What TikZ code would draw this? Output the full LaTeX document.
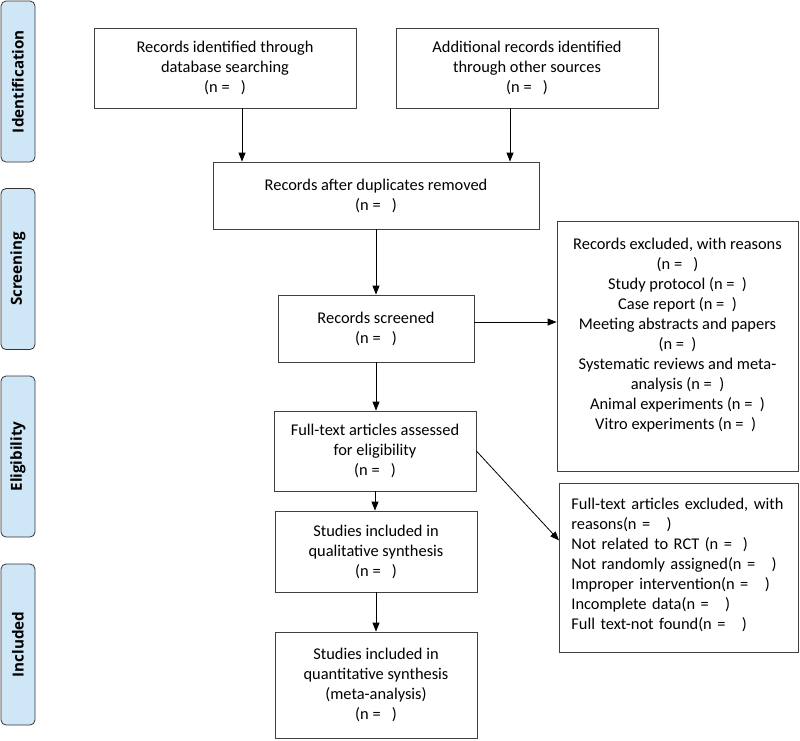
\documentclass[tikz,border=0pt]{standalone}
\usepackage{fontspec}
\setmainfont{Carlito}
\newfontfamily\stagefont{Open Sans}
\usetikzlibrary{positioning, arrows.meta}

\begin{document}
\begin{tikzpicture}[x=1pt, y=-1pt,
    box/.style={draw=black!75, line width=0.8pt, align=center, inner sep=0pt,
      font=\fontsize{16.4}{20}\selectfont},
    stage/.style={draw=black!80, line width=0.8pt, fill=stageblue, rounded corners=5pt,
      rotate=90, minimum width=161pt, minimum height=34pt, inner sep=0pt,
      font=\stagefont\bfseries\fontsize{15.2}{18}\selectfont},
    arr/.style={-{Triangle[length=9pt,width=7pt]}, line width=0.8pt}]
  \definecolor{stageblue}{RGB}{207,230,247}
  \useasboundingbox (0,0) rectangle (800,740);

  % stages
  \node [stage] (ident) at (18,81.5) {Identification};
  \node [stage] (screen) at (18,269) {Screening};
  \node [stage] (elig) at (18,456.5) {Eligibility};
  \node [stage] (incl) at (18,644.5) {Included};

  % boxes
  \node [box, minimum width=262pt, minimum height=80pt] (db) at (225,68)
    {Records identified through\\ database searching\\ (n = \ \ )};
  \node [box, minimum width=262pt, minimum height=80pt] (other) at (527,68)
    {Additional records identified\\ through other sources\\ (n = \ \ )};
  \node [box, minimum width=326pt, minimum height=67pt] (dup) at (376,195.5)
    {Records after duplicates removed\\ (n = \ \ )};
  \node [box, minimum width=196pt, minimum height=67pt] (screened) at (376,328.5)
    {Records screened\\ (n = \ \ )};
  \node [box, minimum width=241pt, minimum height=250pt, anchor=north] (excl) at (677.5,221)
    {Records excluded, with reasons\\ (n = \ \ )\\ Study protocol (n = \ )\\ Case report (n = \ )\\
     Meeting abstracts and papers\\ (n = \ )\\ Systematic reviews and meta-\\ analysis (n = \ )\\
     Animal experiments (n = \ )\\ Vitro experiments (n = \ )\ \ \ \\[6pt]\mbox{}};
  \node [box, minimum width=202pt, minimum height=80pt] (full) at (375,451)
    {Full-text articles assessed\\ for eligibility\\ (n = \ \ )};
  \node [box, minimum width=239pt, minimum height=169pt, anchor=north west, align=left,
    text width=215pt, inner xsep=12pt] (fullexcl) at (559,483)
    {Full-text articles excluded, with\\ reasons(n = \ \ )\\ Not related to RCT (n = \ )\\
     Not randomly assigned(n = \ \ )\\ Improper intervention(n = \ \ )\\ Incomplete data(n = \ \ )\\
     Full text-not found(n = \ \ )\\[-11pt]\mbox{}};
  \node [box, minimum width=202pt, minimum height=81pt] (qual) at (376,551.5)
    {Studies included in\\ qualitative synthesis\\ (n = \ \ )};
  \node [box, minimum width=202pt, minimum height=106pt] (quant) at (376,685)
    {Studies included in\\ quantitative synthesis\\ (meta-analysis)\\ (n = \ \ )};

  % connectors
  \coordinate (dbx) at (242,0);
  \coordinate (otherx) at (510,0);
  \draw [arr] (dbx |- db.south) -- (dbx |- dup.north);
  \draw [arr] (otherx |- other.south) -- (otherx |- dup.north);
  \draw [arr] (dup) -- (screened);
  \draw [arr] ([yshift=6.5pt]screened.east) -- ([yshift=6.5pt]screened.east -| excl.west);
  \draw [arr] (screened.south) -- (screened.south |- full.north);
  \draw [arr] (full.east) -- ([yshift=27.5pt]fullexcl.west);
  \draw [arr] (full.south) -- (full.south |- qual.north);
  \draw [arr] (qual) -- (quant);
\end{tikzpicture}
\end{document}
